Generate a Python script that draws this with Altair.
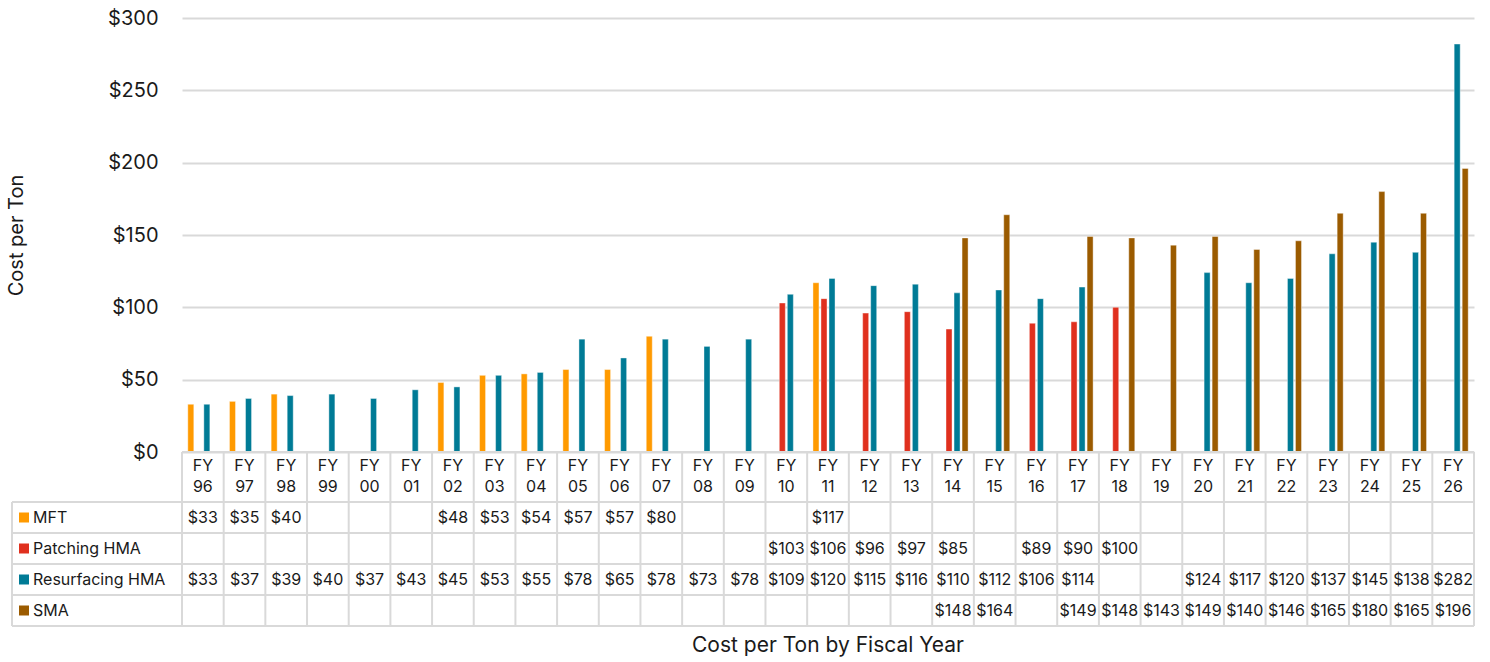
import altair as alt
import pandas as pd

# Fiscal years (FY96 .. FY26) and the four material series
years = ["96", "97", "98", "99", "00", "01", "02", "03", "04", "05", "06",
         "07", "08", "09", "10", "11", "12", "13", "14", "15", "16", "17",
         "18", "19", "20", "21", "22", "23", "24", "25", "26"]
series = ["MFT", "Patching HMA", "Resurfacing HMA", "SMA"]
colors = ["#FF9A00", "#E0301E", "#007B96", "#9B5B00"]

# Cost per ton by fiscal year (None = no data that year)
mft = [33, 35, 40, None, None, None, 48, 53, 54, 57, 57, 80, None, None, None,
       117] + [None] * 15
patching = [None] * 14 + [103, 106, 96, 97, 85, None, 89, 90, 100] + [None] * 8
resurfacing = [33, 37, 39, 40, 37, 43, 45, 53, 55, 78, 65, 78, 73, 78, 109,
               120, 115, 116, 110, 112, 106, 114, None, None, 124, 117, 120,
               137, 145, 138, 282]
sma = [None] * 18 + [148, 164, None, 149, 148, 143, 149, 140, 146, 165, 180,
                     165, 196]

y_ticks = [0, 50, 100, 150, 200, 250, 300]

FONT = "Inter"
INK = "#1a1a1a"
LINE = "#d9d9d9"
TABLE_FS = 16

labels = ["FY " + y for y in years]
rows = []
for name, vals in zip(series, [mft, patching, resurfacing, sma]):
    for lab, v in zip(labels, vals):
        if v is not None:
            rows.append({"label": lab, "series": name, "value": v})
df = pd.DataFrame(rows)
year_df = pd.DataFrame({"label": labels})
last_df = pd.DataFrame({"label": labels[-1:]})
row_df = pd.DataFrame({"series": series, "color": colors})
bottom_df = pd.DataFrame({"series": series[-1:]})
one = pd.DataFrame({"k": [0]})

W, H = 1292, 434          # plot area
TABLE_TOP = H              # header row starts at the baseline
ROWS_TOP, ROWS_BOTTOM = 484, 608
LEFT = -170                # left edge of the series-name column

bar_x = alt.Scale(domain=labels, paddingInner=0.23, paddingOuter=0.115)
tab_x = alt.Scale(domain=labels, paddingInner=0, paddingOuter=0)
tab_y = alt.Scale(domain=series, range=[ROWS_TOP, ROWS_BOTTOM],
                  paddingInner=0, paddingOuter=0)

bars = alt.Chart(df).mark_bar(stroke="white", strokeWidth=0.8,
                              strokeOpacity=0.5).encode(
    x=alt.X("label:N", scale=bar_x, axis=None),
    xOffset=alt.XOffset("series:N",
                        scale=alt.Scale(domain=series, paddingInner=0.25,
                                        paddingOuter=0.125)),
    y=alt.Y("value:Q", scale=alt.Scale(domain=[0, 300], nice=False),
            axis=alt.Axis(values=y_ticks, format="$d", labelFontSize=20,
                          labelPadding=24, labelColor=INK, grid=True,
                          gridColor=LINE, gridWidth=2, domain=False,
                          ticks=False, title="Cost per Ton", titleFontSize=20,
                          titleFontWeight="normal", titleColor=INK,
                          titleX=-166, titleBaseline="middle")),
    color=alt.Color("series:N", scale=alt.Scale(domain=series, range=colors),
                    legend=None),
)

# Table grid: horizontal lines
h_lines = alt.Chart(row_df).mark_rule(color=LINE, strokeWidth=2).encode(
    y=alt.Y("series:N", scale=tab_y, bandPosition=0, axis=None),
    x=alt.value(LEFT), x2=alt.value(W),
)
h_bottom = alt.Chart(bottom_df).mark_rule(color=LINE, strokeWidth=2).encode(
    y=alt.Y("series:N", scale=tab_y, bandPosition=1, axis=None),
    x=alt.value(LEFT), x2=alt.value(W),
)
h_top = alt.Chart(one).mark_rule(color=LINE, strokeWidth=2).encode(
    y=alt.value(TABLE_TOP), x=alt.value(0), x2=alt.value(W),
)

# Table grid: vertical lines
v_lines = alt.Chart(year_df).mark_rule(color=LINE, strokeWidth=2).encode(
    x=alt.X("label:N", scale=tab_x, bandPosition=0, axis=None),
    y=alt.value(TABLE_TOP), y2=alt.value(ROWS_BOTTOM),
)
v_last = alt.Chart(last_df).mark_rule(color=LINE, strokeWidth=2).encode(
    x=alt.X("label:N", scale=tab_x, bandPosition=1, axis=None),
    y=alt.value(TABLE_TOP), y2=alt.value(ROWS_BOTTOM),
)
v_left = alt.Chart(one).mark_rule(color=LINE, strokeWidth=2).encode(
    x=alt.value(LEFT), y=alt.value(ROWS_TOP), y2=alt.value(ROWS_BOTTOM),
)

# Header row: fiscal year labels on two lines
header = alt.Chart(year_df).mark_text(
    font=FONT, fontSize=TABLE_FS, color=INK, lineBreak=" ", lineHeight=21,
    baseline="middle",
).encode(
    x=alt.X("label:N", scale=tab_x, axis=None),
    y=alt.value(448),
    text="label:N",
)

# Cell values
cells = alt.Chart(df).mark_text(
    font=FONT, fontSize=TABLE_FS, color=INK, baseline="middle",
).encode(
    x=alt.X("label:N", scale=tab_x, axis=None),
    y=alt.Y("series:N", scale=tab_y, axis=None),
    text=alt.Text("value:Q", format="$d"),
)

# Series names with colour keys
keys = alt.Chart(row_df).mark_square(size=100, opacity=1).encode(
    x=alt.value(-158),
    y=alt.Y("series:N", scale=tab_y, axis=None),
    color=alt.Color("color:N", scale=None),
)
names = alt.Chart(row_df).mark_text(
    font=FONT, fontSize=TABLE_FS, color=INK, align="left", baseline="middle",
).encode(
    x=alt.value(-149),
    y=alt.Y("series:N", scale=tab_y, axis=None),
    text="series:N",
)

caption = alt.Chart(one).mark_text(
    font=FONT, fontSize=21, color=INK, text="Cost per Ton by Fiscal Year",
    baseline="middle",
).encode(x=alt.value(W / 2), y=alt.value(628))

chart = alt.layer(
    bars, h_top, h_lines, h_bottom, v_lines, v_last, v_left,
    header, cells, keys, names, caption,
).resolve_scale(
    x="independent", y="independent", color="independent",
).properties(
    width=W, height=H,
    autosize=alt.AutoSizeParams(type="none"),
    padding={"left": 182, "top": 18, "right": 16, "bottom": 210},
).configure(
    font=FONT,
).configure_view(
    stroke=None,
)

chart.save("out.html", embed_options={"renderer": "svg", "actions": False})
